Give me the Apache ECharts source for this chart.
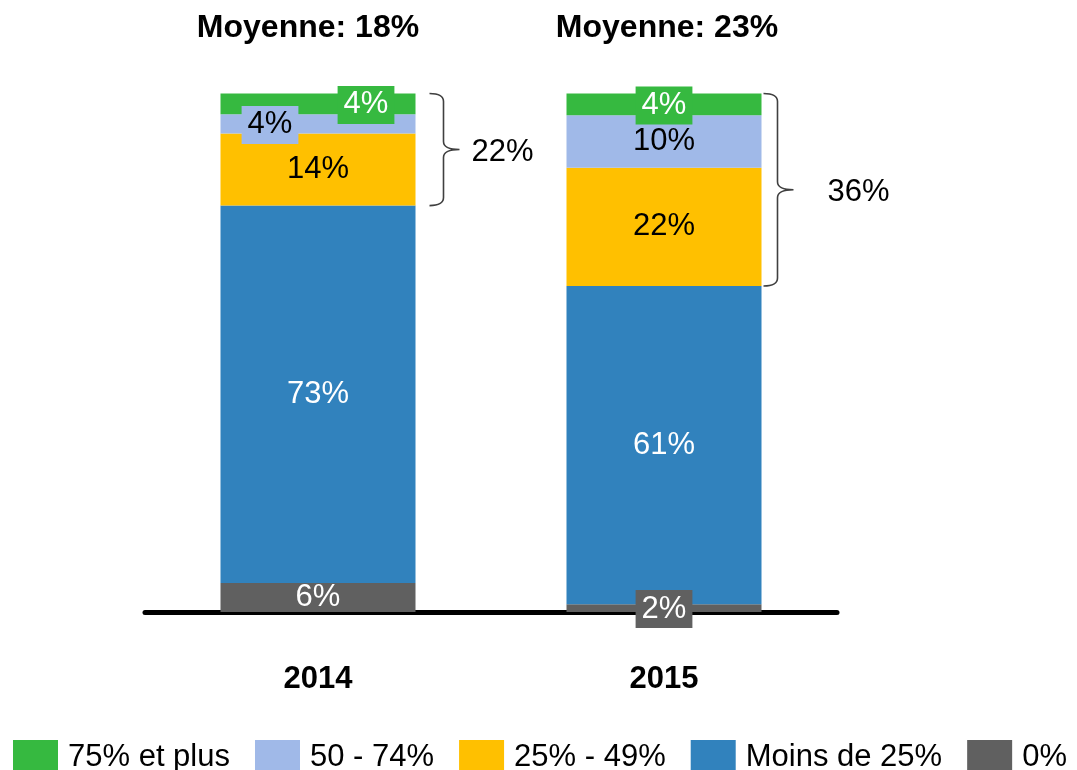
<!DOCTYPE html>
<html>
<head>
<meta charset="utf-8">
<script src="https://cdn.jsdelivr.net/npm/echarts@6/dist/echarts.min.js"></script>
<style>
    html, body { margin: 0; padding: 0; background: #fff; }
    #main { width: 1077px; height: 770px; }
</style>
</head>
<body>
<div id="main"></div>
<script>
// data (heights in % of the bar, labels as printed)
const years = ['2014', '2015'];
const moyenne = [18, 23];
const seriesNames = ['0%', 'Moins de 25%', '25% - 49%', '50 - 74%', '75% et plus'];
const zeroPct = [5.6, 1.5];
const moins25 = [72.7, 61.3];
const pct25to49 = [13.9, 22.8];
const pct50to74 = [3.7, 10.1];
const pct75plus = [4.0, 4.2];
const zeroLabels = [6, 2];
const moins25Labels = [73, 61];
const pct25to49Labels = [14, 22];
const pct50to74Labels = [4, 10];
const pct75plusLabels = [4, 4];

const FONT = "'Liberation Sans', Arial, sans-serif";
const FS = 31;
const colors = ['#606060', '#3182BD', '#FFC000', '#A0B9E8', '#36B940'];
const textColors = ['#fff', '#fff', '#000', '#000', '#fff'];
const BAR_WIDTH = 195;
const bracketGap = [14, 2];
const bracketTextGap = [12, 34];

// small segments get a boxed label, sometimes pushed sideways
const boxedLabels = {
    '0-1': { offset: [0, 1] },
    '3-0': { offset: [-48, 1] },
    '4-0': { offset: [48, 1] },
    '4-1': { offset: [0, 1] }
};

let chart = echarts.init(document.getElementById('main'));

let values = [zeroPct, moins25, pct25to49, pct50to74, pct75plus];
let labels = [zeroLabels, moins25Labels, pct25to49Labels, pct50to74Labels, pct75plusLabels];

let barSeries = seriesNames.map((name, s) => {
    return {
        name: name,
        type: 'bar',
        stack: 'total',
        barWidth: BAR_WIDTH,
        itemStyle: { color: colors[s] },
        label: {
            show: true,
            position: 'inside',
            color: textColors[s],
            fontSize: FS,
            fontFamily: FONT,
            formatter: (p) => labels[s][p.dataIndex] + '%'
        },
        data: values[s].map((v, i) => {
            let box = boxedLabels[s + '-' + i];
            if (!box) {
                return v;
            }
            return {
                value: v,
                label: {
                    offset: box.offset,
                    backgroundColor: colors[s],
                    padding: [4, 6, 3, 6]
                }
            };
        })
    };
});

// brace over the three upper groups
let bracketData = years.map((y, i) => {
    let low = zeroPct[i] + moins25[i];
    let high = low + pct25to49[i] + pct50to74[i] + pct75plus[i];
    let shown = pct25to49Labels[i] + pct50to74Labels[i] + pct75plusLabels[i];
    return [i, low, high, shown];
});

let bracketSeries = {
    type: 'custom',
    silent: true,
    data: bracketData,
    renderItem: function(params, api) {
        let i = api.value(0);
        let top = api.coord([i, api.value(2)]);
        let bot = api.coord([i, api.value(1)]);
        let x0 = top[0] + BAR_WIDTH / 2 + bracketGap[i];
        let yT = top[1];
        let yB = bot[1];
        let yM = (yT + yB) / 2;
        let w = 14, r = 8, tip = 16;
        let xv = x0 + w;
        let path = 'M' + x0 + ',' + yT +
            ' Q' + xv + ',' + yT + ' ' + xv + ',' + (yT + r) +
            ' L' + xv + ',' + (yM - r) +
            ' Q' + xv + ',' + yM + ' ' + (xv + tip) + ',' + yM +
            ' Q' + xv + ',' + yM + ' ' + xv + ',' + (yM + r) +
            ' L' + xv + ',' + (yB - r) +
            ' Q' + xv + ',' + yB + ' ' + x0 + ',' + yB;
        return {
            type: 'group',
            children: [{
                type: 'path',
                shape: { pathData: path },
                style: { fill: null, stroke: '#404040', lineWidth: 1.6 }
            }, {
                type: 'text',
                style: {
                    x: xv + tip + bracketTextGap[i],
                    y: yM + 3,
                    text: api.value(3) + '%',
                    fill: '#000',
                    font: FS + 'px ' + FONT,
                    verticalAlign: 'middle'
                }
            }]
        };
    }
};

chart.setOption({
    animation: false,
    textStyle: { fontFamily: FONT },
    grid: { left: 145, right: 240, top: 93, bottom: 158 },
    legend: {
        data: ['75% et plus', '50 - 74%', '25% - 49%', 'Moins de 25%', '0%'],
        left: 8,
        top: 735,
        icon: 'rect',
        itemWidth: 45,
        itemHeight: 34,
        itemGap: 25,
        textStyle: { fontSize: FS, color: '#000', fontFamily: FONT, padding: [0, 0, 0, 5] }
    },
    xAxis: [{
        type: 'category',
        data: years,
        axisLine: { lineStyle: { color: '#000', width: 5 } },
        axisTick: { show: false },
        axisLabel: { fontSize: FS, fontWeight: 'bold', color: '#000', margin: 52 }
    }, {
        type: 'category',
        position: 'top',
        data: moyenne.map((m) => 'Moyenne: ' + m + '%'),
        axisLine: { show: false },
        axisTick: { show: false },
        axisLabel: {
            margin: 49,
            formatter: (v, i) => '{t' + i + '|' + v + '}',
            rich: {
                t0: { fontSize: 32, fontWeight: 'bold', color: '#000', padding: [0, 20, 0, 0] },
                t1: { fontSize: 32, fontWeight: 'bold', color: '#000', padding: [0, 0, 0, 6] }
            }
        }
    }],
    yAxis: {
        type: 'value',
        min: 0,
        max: 100,
        show: false,
        splitLine: { show: false }
    },
    series: barSeries.concat([bracketSeries])
});
</script>
</body>
</html>
